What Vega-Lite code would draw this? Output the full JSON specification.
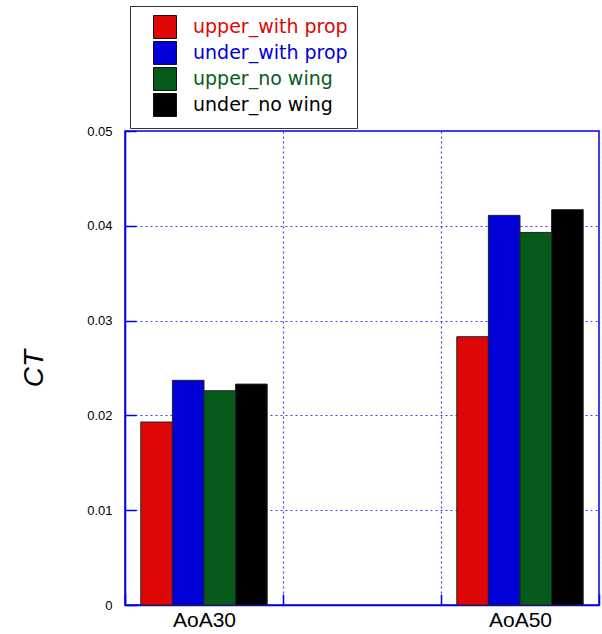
{
  "$schema": "https://vega.github.io/schema/vega-lite/v6.json",
  "autosize": {"type": "none"},
  "width": 474,
  "height": 474,
  "padding": {"left": 125, "top": 131, "right": 3, "bottom": 29},
  "background": "white",
  "data": {
    "values": [
      {"category": "AoA30", "series": "upper_with prop", "value": 0.0193},
      {"category": "AoA30", "series": "under_with prop", "value": 0.0237},
      {"category": "AoA30", "series": "upper_no wing", "value": 0.0226},
      {"category": "AoA30", "series": "under_no wing", "value": 0.0233},
      {"category": "AoA50", "series": "upper_with prop", "value": 0.0283},
      {"category": "AoA50", "series": "under_with prop", "value": 0.0411},
      {"category": "AoA50", "series": "upper_no wing", "value": 0.0393},
      {"category": "AoA50", "series": "under_no wing", "value": 0.0417}
    ]
  },
  "mark": {"type": "bar", "stroke": "#222222", "strokeWidth": 1},
  "encoding": {
    "x": {
      "field": "category",
      "type": "nominal",
      "scale": {"domain": ["AoA30", "mid", "AoA50"], "paddingInner": 0, "paddingOuter": 0},
      "axis": {
        "title": null,
        "labelExpr": "datum.value == 'mid' ? '' : datum.value",
        "labelAngle": 0,
        "labelFont": "Liberation Sans",
        "labelFontSize": 21,
        "labelColor": "#000000",
        "labelPadding": 15,
        "tickBand": "extent",
        "grid": true,
        "gridColor": "#3a3aff",
        "gridDash": [2, 3],
        "gridWidth": 1.2,
        "domainColor": "#0000ee",
        "domainWidth": 1.5,
        "tickColor": "#0000ee",
        "tickWidth": 1.5,
        "tickSize": -11
      }
    },
    "xOffset": {
      "field": "series",
      "type": "nominal",
      "sort": ["upper_with prop", "under_with prop", "upper_no wing", "under_no wing"],
      "scale": {"paddingInner": 0, "paddingOuter": 0.5}
    },
    "y": {
      "field": "value",
      "type": "quantitative",
      "scale": {"domain": [0, 0.05], "nice": false},
      "axis": {
        "title": "CT",
        "titleFont": "Liberation Sans",
        "titleFontSize": 28,
        "titleFontStyle": "italic",
        "titleFontWeight": "normal",
        "titleColor": "#000000",
        "titlePadding": 38,
        "values": [0, 0.01, 0.02, 0.03, 0.04, 0.05],
        "format": ".2~f",
        "labelFont": "Liberation Sans",
        "labelFontSize": 13,
        "labelColor": "#000000",
        "labelPadding": 24,
        "grid": true,
        "gridColor": "#3a3aff",
        "gridDash": [2, 3],
        "gridWidth": 1.2,
        "domainColor": "#0000ee",
        "domainWidth": 1.5,
        "tickColor": "#0000ee",
        "tickWidth": 1.5,
        "tickSize": -11
      }
    },
    "color": {
      "field": "series",
      "type": "nominal",
      "scale": {
        "domain": ["upper_with prop", "under_with prop", "upper_no wing", "under_no wing"],
        "range": ["#de0606", "#0000d8", "#075b1a", "#000000"]
      },
      "legend": {
        "orient": "none",
        "legendX": 5,
        "legendY": -125,
        "title": null,
        "symbolType": "square",
        "symbolSize": 529,
        "symbolStrokeColor": "#111111",
        "symbolStrokeWidth": 1,
        "symbolOpacity": 1,
        "rowPadding": -20,
        "labelFont": "DejaVu Sans",
        "labelFontSize": 19,
        "labelOffset": 16,
        "symbolOffset": 14,
        "strokeColor": "#333333",
        "fillColor": "white",
        "padding": 9,
        "encode": {
          "labels": {"update": {"fill": {"scale": "color", "field": "value"}}}
        }
      }
    }
  },
  "config": {
    "view": {"stroke": "#0000ee", "strokeWidth": 1.5},
    "axis": {"gridOpacity": 1}
  }
}
